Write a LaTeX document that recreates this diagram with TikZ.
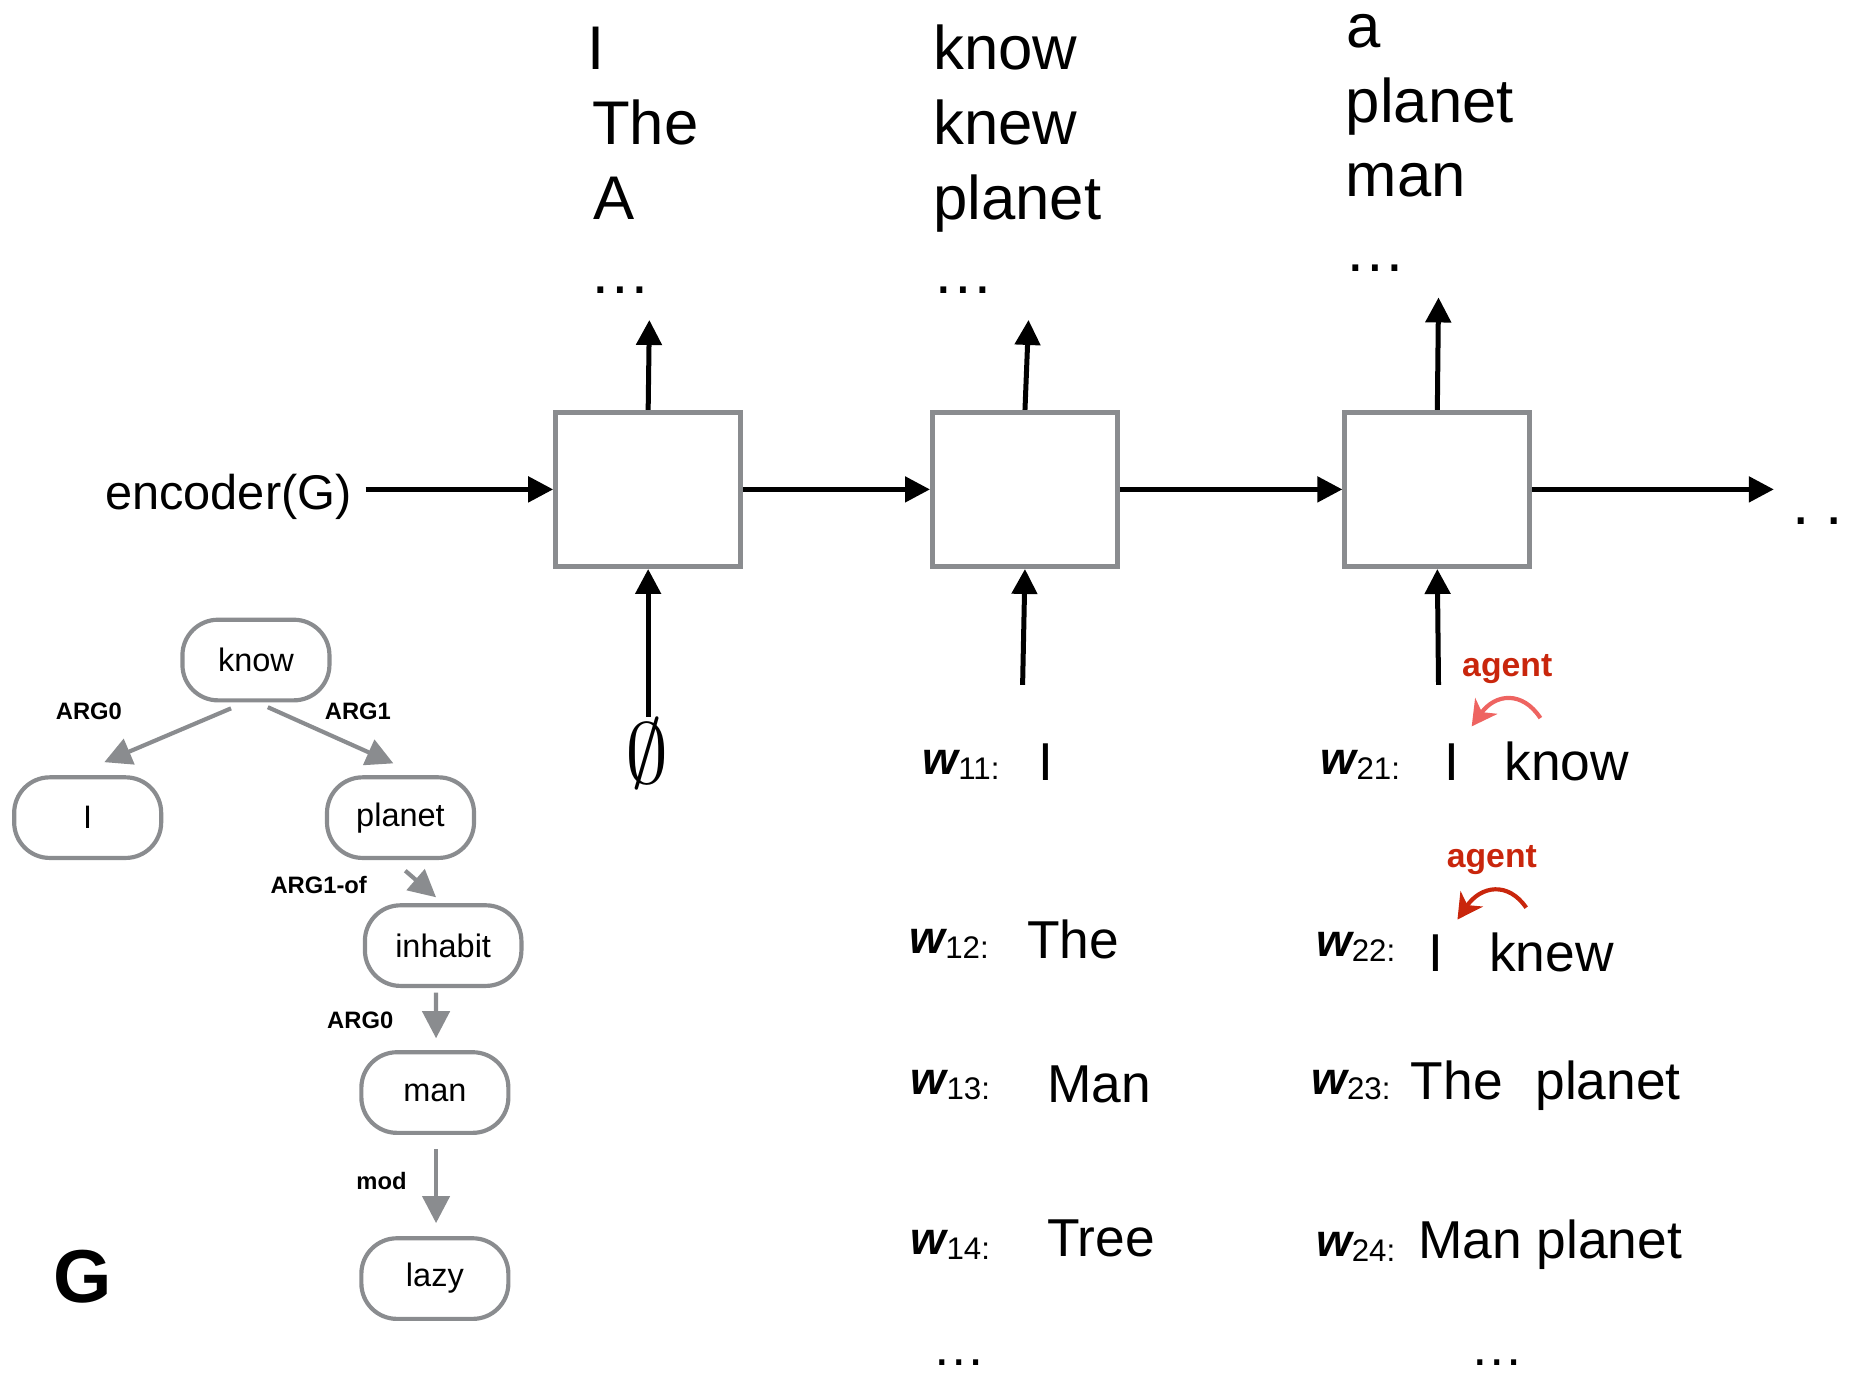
\documentclass[tikz,border=0pt]{standalone}
\usepackage{fontspec}
\setmainfont{Liberation Sans}
\usepackage{amssymb}
\usetikzlibrary{arrows.meta}
\usetikzlibrary{calc}
\usetikzlibrary{positioning}

\definecolor{cellgray}{HTML}{8A8C8F}
\definecolor{agentred}{HTML}{C9260C}
\definecolor{agentpink}{HTML}{EE6461}

\newcommand{\fsz}[1]{\fontsize{#1}{#1}\selectfont}
\newcommand{\wlabel}[1]{\raisebox{1.2pt}{\fsz{11}\bfseries\itshape w}{\fsz{7.5}#1:}}

\tikzset{
  cell/.style={draw=cellgray, line width=1.2pt, minimum width=1.56cm, minimum height=1.3cm, inner sep=0pt},
  amr/.style={draw=cellgray, line width=1pt, rounded corners=0.3cm, minimum width=1.24cm,
    minimum height=0.68cm, inner sep=0pt, font=\fsz{7.8}},
  rel/.style={font=\fsz{5.7}\bfseries, inner sep=0pt},
  flow/.style={-{Triangle[length=6pt,width=6pt]}, line width=1.2pt},
  amrarrow/.style={-{Triangle[length=6.5pt,width=6.5pt]}, line width=1pt, draw=cellgray},
  topword/.style={anchor=base west, inner sep=0pt, font=\fsz{14.8}},
  word/.style={anchor=base west, inner sep=0pt, font=\fsz{12.8}},
  agentlab/.style={text=agentred, font=\fsz{8.1}\bfseries, inner sep=0pt},
  agentarrow/.style={-{Stealth[length=6pt,width=6.5pt,inset=1.8pt]}, line width=1pt}
}

\begin{document}
\begin{tikzpicture}[x=0.01cm,y=-0.01cm]
    \useasboundingbox (0,0) rectangle (1568,1159);

    % decoder cells
    \node[cell] (cell1) at (547,413) {};
    \node[cell] (cell2) at (865,413) {};
    \node[cell] (cell3) at (1213,413) {};

    \node[anchor=base west, inner sep=0pt, font=\fsz{11.7}] (enc) at (88,430) {encoder(G)};
    \coordinate (flowend) at (1497,413);
    \node[anchor=base west, inner sep=0pt, font=\fsz{15}] (more) at (1512,443) {.\hskip3.8pt.};

    \draw[flow] ($(enc.east |- cell1.west)+(11,0)$) -- (cell1.west);
    \draw[flow] (cell1.east) -- (cell2.west);
    \draw[flow] (cell2.east) -- (cell3.west);
    \draw[flow] (cell3.east) -- (flowend);

    \coordinate (out1) at (548,270);
    \coordinate (out2) at (868,270);
    \coordinate (out3) at (1214,251);
    \draw[flow] (cell1.north) -- (out1);
    \draw[flow] (cell2.north) -- (out2);
    \draw[flow] (cell3.north) -- (out3);

    \coordinate (in1) at (547,605);
    \coordinate (in2) at (863,578);
    \coordinate (in3) at (1214,578);
    \draw[flow] (in1) -- (cell1.south);
    \draw[flow] (in2) -- (cell2.south);
    \draw[flow] (in3) -- (cell3.south);

    \node[inner sep=0pt] (empty) at (546,636) {\fsz{20}$\emptyset$};

    % candidate outputs
    \node[topword] (o11) at (495,59) {I};
    \node[topword] (o12) at (499,122) {The};
    \node[topword] (o13) at (500,185) {A};
    \node[topword] (o14) at (497,248) {…};
    \node[topword] (o21) at (787,59) {know};
    \node[topword] (o22) at (787,122) {knew};
    \node[topword] (o23) at (787,185) {planet};
    \node[topword] (o24) at (786,248) {…};
    \node[topword] (o31) at (1136,40) {a};
    \node[topword] (o32) at (1135,103) {planet};
    \node[topword] (o33) at (1135,166) {man};
    \node[topword] (o34) at (1134,229) {…};

    % beams
    \node[word] (w11) at (778,658) {\wlabel{11}};
    \node[word] (w11a) at (876,659) {I};
    \node[word] (w12) at (767,809) {\wlabel{12}};
    \node[word] (w12a) at (866,809) {The};
    \node[word] (w13) at (768,928) {\wlabel{13}};
    \node[word] (w13a) at (883,930) {Man};
    \node[word] (w14) at (768,1063) {\wlabel{14}};
    \node[word] (w14a) at (883,1060) {Tree};
    \node[word] (w1dots) at (786,1152) {…};

    \node[word] (w21) at (1114,658) {\wlabel{21}};
    \node[word] (w21a) at (1218,659) {I};
    \node[word] (w21b) at (1269,659) {know};
    \node[word] (w22) at (1110,811) {\wlabel{22}};
    \node[word] (w22a) at (1205,820) {I};
    \node[word] (w22b) at (1256,820) {knew};
    \node[word] (w23) at (1106,928) {\wlabel{23}};
    \node[word] (w23a) at (1190,928) {The};
    \node[word] (w23b) at (1295,928) {planet};
    \node[word] (w24) at (1110,1065) {\wlabel{24}};
    \node[word] (w24a) at (1196,1062) {Man planet};
    \node[word] (w2dots) at (1240,1152) {…};

    \node[agentlab] (agent1) at (1272,565) {agent};
    \node[agentlab] (agent2) at (1259,726) {agent};
    \coordinate (ag1s) at (1300,606);
    \coordinate (ag1e) at (1242,613);
    \coordinate (ag2s) at (1288,766);
    \coordinate (ag2e) at (1230,776);
    \draw[agentarrow, agentpink] (ag1s) .. controls (1285,583) and (1262,585) .. (ag1e);
    \draw[agentarrow, agentred] (ag2s) .. controls (1273,744) and (1250,747) .. (ag2e);

    % graph G
    \node[amr] (know) at (216,557) {know};
    \node[amr] (nI) at (74,690) {I};
    \node[amr] (planet) at (338,690) {planet};
    \node[amr, minimum width=1.32cm] (inhabit) at (374,798) {inhabit};
    \node[amr] (man) at (367,922) {man};
    \node[amr] (lazy) at (367,1079) {lazy};

    \draw[amrarrow] ([xshift=-0.21cm,yshift=-0.05cm]know.south) -- ([xshift=0.14cm,yshift=0.11cm]nI.north);
    \draw[amrarrow] ([xshift=0.10cm,yshift=-0.04cm]know.south) -- ([xshift=-0.06cm,yshift=0.10cm]planet.north);
    \draw[amrarrow] ([xshift=0.04cm,yshift=-0.09cm]planet.south) -- ([xshift=-0.06cm,yshift=0.05cm]inhabit.north);
    \draw[amrarrow] ([xshift=-0.06cm,yshift=-0.04cm]inhabit.south) -- ([xshift=0.01cm,yshift=0.10cm]man.north);
    \draw[amrarrow] ([xshift=0.01cm,yshift=-0.12cm]man.south) -- ([xshift=0.01cm,yshift=0.11cm]lazy.north);

    \node[rel] (r1) at (75,600) {ARG0};
    \node[rel] (r2) at (302,600) {ARG1};
    \node[rel] (r3) at (269,747) {ARG1-of};
    \node[rel] (r4) at (304,861) {ARG0};
    \node[rel] (r5) at (322,997) {mod};

    \node[font=\fsz{18}\bfseries, inner sep=0pt] (gname) at (70,1077) {G};
\end{tikzpicture}
\end{document}
